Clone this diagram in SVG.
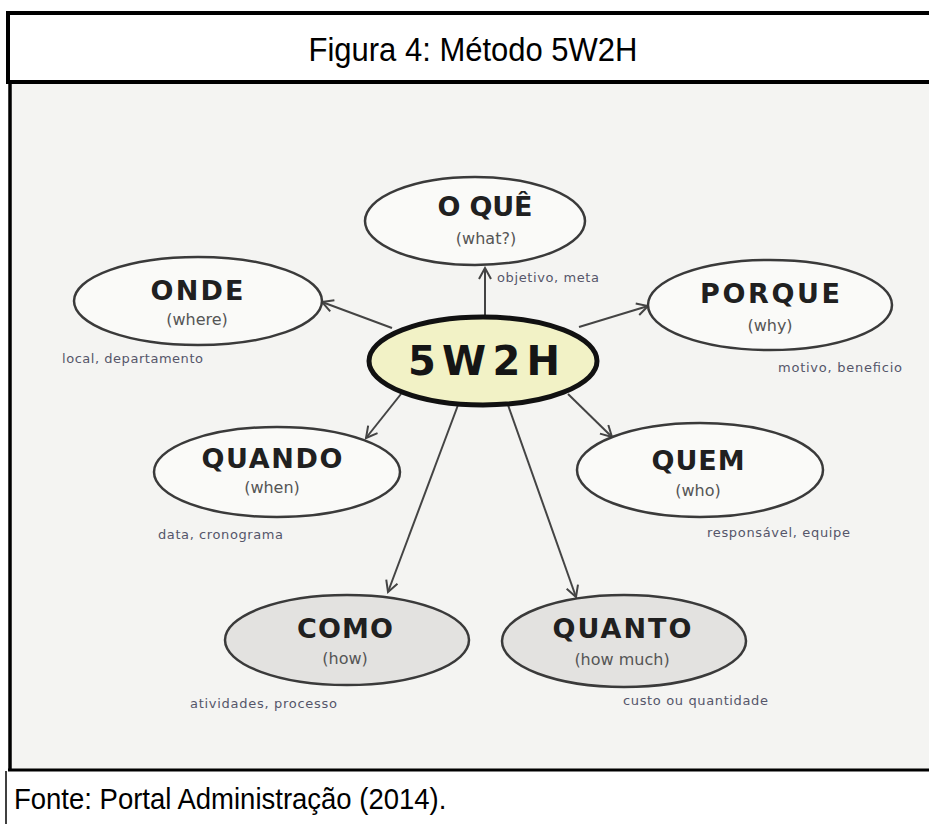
<svg xmlns="http://www.w3.org/2000/svg" width="929" height="824" viewBox="0 0 929 824">
<style>
.node{fill:#fafaf8;stroke:#3a3a3a;stroke-width:2.5}
.gray{fill:#e3e2e0}
.lbl{font-family:"DejaVu Sans",sans-serif;font-size:27px;fill:#202020;text-anchor:middle;font-weight:bold}
.sub{font-family:"DejaVu Sans",sans-serif;font-size:16px;fill:#555;text-anchor:middle}
.note{font-family:"DejaVu Sans",sans-serif;font-size:13px;fill:#55566a}
.conn{stroke:#444;stroke-width:2;fill:none;marker-end:url(#arr)}
</style>
<defs>
<marker id="arr" viewBox="0 0 14 14" refX="12" refY="7" markerWidth="14" markerHeight="14" markerUnits="userSpaceOnUse" orient="auto">
<path d="M1,1 L12,7 L1,13" fill="none" stroke="#444" stroke-width="2"/>
</marker>
</defs>
<rect x="0" y="0" width="929" height="824" fill="#ffffff"/>
<rect x="10" y="83" width="919" height="686" fill="#f4f4f2"/>
<rect x="8" y="13" width="930" height="69" fill="#ffffff" stroke="#000" stroke-width="4"/>
<text x="473" y="61" font-family="Liberation Sans, Arial, sans-serif" font-size="31" text-anchor="middle" fill="#000" transform="translate(473 61) scale(1 1.08) translate(-473 -61)">Figura 4: Método 5W2H</text>
<line x1="10" y1="82" x2="10" y2="771" stroke="#000" stroke-width="3.5"/>
<line x1="8" y1="770" x2="929" y2="770" stroke="#000" stroke-width="3"/>
<line x1="6" y1="771" x2="6" y2="824" stroke="#000" stroke-width="1.5"/>
<text x="14" y="809" font-family="Liberation Sans, Arial, sans-serif" font-size="27.5" fill="#000" transform="translate(14 809) scale(1 1.08) translate(-14 -809)">Fonte: Portal Administração (2014).</text>

<g id="connectors">
<path class="conn" d="M485,316 L485,268"/>
<path class="conn" d="M392,328 L322,302"/>
<path class="conn" d="M579,327 L648,306"/>
<path class="conn" d="M401,394 L366,438"/>
<path class="conn" d="M568,394 L612,437"/>
<path class="conn" d="M458,405 L388,592"/>
<path class="conn" d="M508,405 L576,597"/>
</g>

<g id="node-oque">
<ellipse class="node" cx="475" cy="221" rx="110" ry="44"/>
<text class="lbl" x="485" y="216" textLength="95">O QUÊ</text>
<text class="sub" x="486" y="244">(what?)</text>
<text class="note" x="497" y="282" textLength="102">objetivo, meta</text>
</g>
<g id="node-onde">
<ellipse class="node" cx="198" cy="301" rx="124" ry="44"/>
<text class="lbl" x="197" y="300" textLength="93">ONDE</text>
<text class="sub" x="197" y="325">(where)</text>
<text class="note" x="62" y="363" textLength="141">local, departamento</text>
</g>
<g id="node-porque">
<ellipse class="node" cx="770" cy="305" rx="122" ry="45"/>
<text class="lbl" x="770" y="303" textLength="140">PORQUE</text>
<text class="sub" x="770" y="331">(why)</text>
<text class="note" x="778" y="372" textLength="124">motivo, beneficio</text>
</g>
<g id="node-center">
<ellipse cx="483" cy="361" rx="114" ry="44" fill="#f2f2c6" stroke="#111" stroke-width="5"/>
<text x="484" y="375" font-family="DejaVu Sans, sans-serif" font-size="40" font-weight="bold" text-anchor="middle" fill="#151515" textLength="152">5W2H</text>
</g>
<g id="node-quando">
<ellipse class="node" cx="277" cy="472" rx="123" ry="45"/>
<text class="lbl" x="272" y="468" textLength="141">QUANDO</text>
<text class="sub" x="272" y="493">(when)</text>
<text class="note" x="158" y="539" textLength="125">data, cronograma</text>
</g>
<g id="node-quem">
<ellipse class="node" cx="700" cy="470" rx="123" ry="47"/>
<text class="lbl" x="698" y="470" textLength="93">QUEM</text>
<text class="sub" x="698" y="496">(who)</text>
<text class="note" x="707" y="537" textLength="143">responsável, equipe</text>
</g>
<g id="node-como">
<ellipse class="node gray" cx="347" cy="640" rx="122" ry="45"/>
<text class="lbl" x="345" y="638" textLength="96">COMO</text>
<text class="sub" x="345" y="664">(how)</text>
<text class="note" x="190" y="708" textLength="147">atividades, processo</text>
</g>
<g id="node-quanto">
<ellipse class="node gray" cx="624" cy="641" rx="122" ry="46"/>
<text class="lbl" x="622" y="638" textLength="139">QUANTO</text>
<text class="sub" x="622" y="665">(how much)</text>
<text class="note" x="623" y="705" textLength="145">custo ou quantidade</text>
</g>
</svg>
